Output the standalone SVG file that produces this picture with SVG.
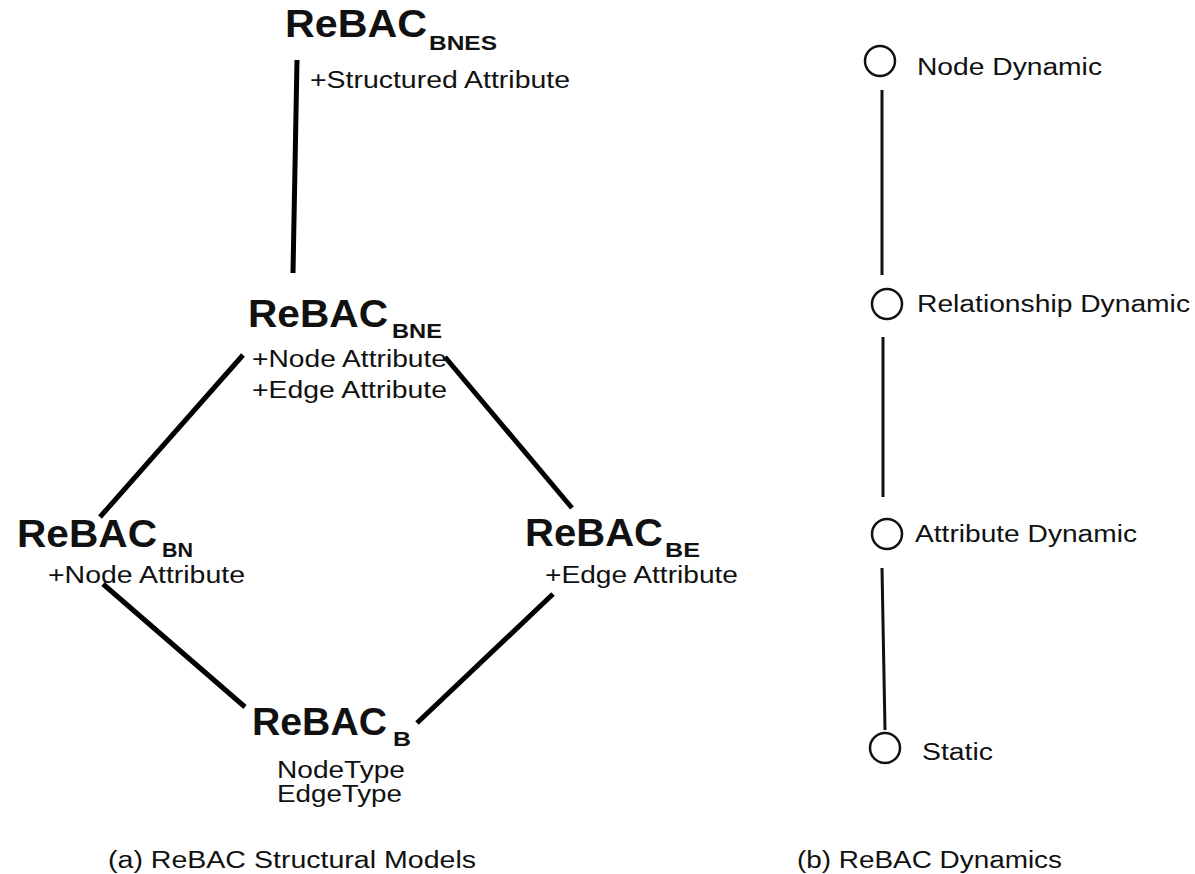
<svg xmlns="http://www.w3.org/2000/svg" width="1195" height="874" viewBox="0 0 1195 874">
<style>
.t{font-family:"Liberation Sans",Arial,sans-serif;fill:#111;}
.big{font-size:38px;font-weight:bold;}
.sub{font-size:21px;font-weight:bold;}
.sub2{font-size:20px;font-weight:bold;}
.lab{font-size:23px;}
.cap{font-size:23px;}
.edge{stroke:#000;stroke-width:5;stroke-linecap:butt;fill:none;}
.thin{stroke:#111;stroke-width:3;fill:none;}
.dot{fill:#fff;stroke:#111;stroke-width:2.5;}
</style>
<rect width="1195" height="874" fill="#fff"/>
<g id="connectors">
<line class="edge" x1="297" y1="60" x2="293" y2="273"/>
<line class="edge" x1="243" y1="355" x2="100" y2="517"/>
<line class="edge" x1="445" y1="357" x2="572" y2="508"/>
<line class="edge" x1="103" y1="584" x2="245" y2="707"/>
<line class="edge" x1="553" y1="594" x2="417" y2="723"/>
<line class="thin" x1="882" y1="90" x2="882" y2="275"/>
<line class="thin" x1="883" y1="337" x2="883" y2="497"/>
<line class="thin" x1="882" y1="568" x2="885" y2="730"/>
</g>
<g id="node-bnes">
<text class="t big" x="285" y="37" textLength="142" lengthAdjust="spacingAndGlyphs">ReBAC</text>
<text class="t sub" x="429" y="50" textLength="68" lengthAdjust="spacingAndGlyphs">BNES</text>
<text class="t lab" x="310" y="88" textLength="260" lengthAdjust="spacingAndGlyphs">+Structured Attribute</text>
</g>
<g id="node-bne">
<text class="t big" x="248" y="327" textLength="140" lengthAdjust="spacingAndGlyphs">ReBAC</text>
<text class="t sub" x="392" y="338" textLength="50" lengthAdjust="spacingAndGlyphs">BNE</text>
<text class="t lab" x="252" y="367" textLength="195" lengthAdjust="spacingAndGlyphs">+Node Attribute</text>
<text class="t lab" x="252" y="398" textLength="195" lengthAdjust="spacingAndGlyphs">+Edge Attribute</text>
</g>
<g id="node-bn">
<text class="t big" x="17" y="547" textLength="140" lengthAdjust="spacingAndGlyphs">ReBAC</text>
<text class="t sub2" x="162" y="557" textLength="31" lengthAdjust="spacingAndGlyphs">BN</text>
<text class="t lab" x="48" y="583" textLength="197" lengthAdjust="spacingAndGlyphs">+Node Attribute</text>
</g>
<g id="node-be">
<text class="t big" x="525" y="546" textLength="138" lengthAdjust="spacingAndGlyphs">ReBAC</text>
<text class="t sub2" x="665" y="557" textLength="35" lengthAdjust="spacingAndGlyphs">BE</text>
<text class="t lab" x="545" y="583" textLength="193" lengthAdjust="spacingAndGlyphs">+Edge Attribute</text>
</g>
<g id="node-b">
<text class="t big" x="252" y="735" textLength="135" lengthAdjust="spacingAndGlyphs">ReBAC</text>
<text class="t sub" x="393" y="746" textLength="18" lengthAdjust="spacingAndGlyphs">B</text>
<text class="t lab" x="277" y="778" textLength="128" lengthAdjust="spacingAndGlyphs">NodeType</text>
<text class="t lab" x="277" y="802" textLength="125" lengthAdjust="spacingAndGlyphs">EdgeType</text>
</g>
<g id="dyn-node">
<circle class="dot" cx="880" cy="61" r="15"/>
<text class="t lab" x="917" y="75" textLength="185" lengthAdjust="spacingAndGlyphs">Node Dynamic</text>
</g>
<g id="dyn-relationship">
<circle class="dot" cx="887" cy="304" r="15"/>
<text class="t lab" x="917" y="312" textLength="273" lengthAdjust="spacingAndGlyphs">Relationship Dynamic</text>
</g>
<g id="dyn-attribute">
<circle class="dot" cx="887" cy="534" r="15"/>
<text class="t lab" x="915" y="542" textLength="222" lengthAdjust="spacingAndGlyphs">Attribute Dynamic</text>
</g>
<g id="dyn-static">
<circle class="dot" cx="885" cy="748" r="15"/>
<text class="t lab" x="922" y="760" textLength="71" lengthAdjust="spacingAndGlyphs">Static</text>
</g>
<g id="captions">
<text class="t cap" x="108" y="868" textLength="368" lengthAdjust="spacingAndGlyphs">(a) ReBAC Structural Models</text>
<text class="t cap" x="797" y="868" textLength="265" lengthAdjust="spacingAndGlyphs">(b) ReBAC Dynamics</text>
</g>
</svg>
